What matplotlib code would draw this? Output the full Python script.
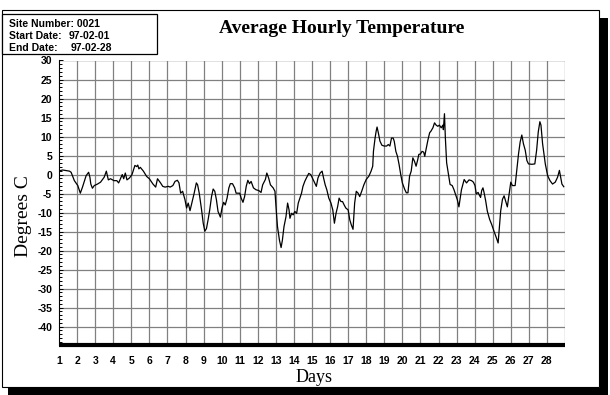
import matplotlib
matplotlib.use("Agg")
import matplotlib.pyplot as plt
from matplotlib.patches import Rectangle
from matplotlib.ticker import MultipleLocator

# hourly temperature trace (day position, degrees C)
days = [
    1.04, 1.2, 1.58, 1.67, 1.85, 2.04, 2.18, 2.3, 2.5, 2.64, 2.71, 2.76, 2.85, 2.95,
    3.13, 3.3, 3.5, 3.62, 3.73, 3.85, 4.04, 4.2, 4.3, 4.5, 4.58, 4.67, 4.76, 4.9,
    5.04, 5.2, 5.3, 5.36, 5.42, 5.5, 5.67, 5.85, 6.0, 6.2, 6.35, 6.45, 6.53,
    6.62, 6.74, 6.87, 7.05, 7.15, 7.3, 7.42, 7.55, 7.64, 7.73, 7.84, 7.97, 8.06,
    8.15, 8.25, 8.37, 8.48, 8.6, 8.67, 8.76, 8.89, 8.98, 9.07, 9.16, 9.25, 9.34,
    9.44, 9.53, 9.62, 9.71, 9.8, 9.93, 10.02, 10.11, 10.2, 10.3, 10.4, 10.48,
    10.6, 10.72, 10.8, 11.0, 11.08, 11.18, 11.27, 11.36, 11.45, 11.54, 11.63,
    11.76, 11.9, 12.05, 12.18, 12.27, 12.42, 12.5, 12.6, 12.7, 12.85, 12.95,
    13.02, 13.09, 13.2, 13.29, 13.36, 13.45, 13.56, 13.65, 13.73, 13.78, 13.87,
    13.96, 14.05, 14.15, 14.24, 14.33, 14.42, 14.5, 14.6, 14.69, 14.82, 14.93,
    15.02, 15.15, 15.24, 15.33, 15.45, 15.56, 15.64, 15.73, 15.82, 15.93, 16.05,
    16.15, 16.24, 16.33, 16.42, 16.5, 16.6, 16.69, 16.78, 16.87, 17.0, 17.09,
    17.18, 17.27, 17.36, 17.45, 17.55, 17.64, 17.75, 17.87, 18.0, 18.15, 18.27,
    18.36, 18.4, 18.49, 18.55, 18.6, 18.67, 18.76, 18.87, 19.0, 19.13, 19.22,
    19.31, 19.4, 19.49, 19.55, 19.64, 19.73, 19.82, 19.91, 20.0, 20.13, 20.22,
    20.31, 20.4, 20.49, 20.58, 20.67, 20.76, 20.85, 20.91, 21.0, 21.09, 21.18,
    21.24, 21.31, 21.42, 21.51, 21.58, 21.69, 21.78, 21.87, 21.96, 22.05, 22.15,
    22.24, 22.27, 22.33, 22.38, 22.45, 22.55, 22.64, 22.76, 22.85, 22.95, 23.04,
    23.13, 23.27, 23.42, 23.55, 23.69, 23.83, 23.93, 24.02, 24.09, 24.19, 24.28,
    24.33, 24.39, 24.46, 24.52, 24.61, 24.7, 24.83, 24.94, 25.07, 25.2, 25.3,
    25.35, 25.44, 25.54, 25.63, 25.72, 25.81, 25.91, 26.0, 26.09, 26.24, 26.33,
    26.43, 26.52, 26.61, 26.7, 26.8, 26.89, 26.98, 27.17, 27.33, 27.43, 27.52,
    27.61, 27.67, 27.76, 27.91, 28.04, 28.17, 28.31, 28.46, 28.59, 28.69, 28.76,
    28.83, 28.93,
]
temps = [
    1.0, 1.2, 0.9, 0.6, -1.6, -2.9, -4.9, -3.3, -0.3, 0.6, -0.7, -2.5, -3.6, -2.9,
    -2.5, -2.0, -0.7, 0.9, -1.4, -1.1, -1.6, -1.6, -2.2, 0.0, -1.1, 0.4, -1.4, -0.9,
    0.0, 2.4, 2.1, 2.5, 1.5, 1.9, 0.9, -0.5, -1.1, -2.5, -3.3, -1.1, -1.6,
    -2.2, -3.1, -3.3, -3.1, -3.3, -2.9, -1.8, -1.5, -2.2, -4.9, -4.4, -6.6, -8.8,
    -7.5, -9.5, -7.1, -4.9, -2.2, -2.7, -4.9, -9.3, -12.8, -14.9, -14.2, -11.9, -9.3,
    -5.8, -3.8, -4.4, -6.6, -9.7, -11.2, -8.8, -7.3, -8.0, -6.2, -3.5, -2.4,
    -2.4, -3.5, -4.9, -4.9, -6.2, -7.3, -5.8, -3.1, -1.5, -2.4, -1.8,
    -3.5, -4.0, -4.2, -4.7, -2.7, -1.3, 0.4, -0.9, -2.7, -3.5, -4.4,
    -9.3, -13.7, -17.3, -19.2, -17.3, -13.7, -11.1, -7.5, -9.3, -11.5, -10.2,
    -10.6, -9.7, -10.2, -7.5, -6.2, -4.9, -3.1, -1.8, -0.9, 0.3, 0.0,
    -0.9, -2.2, -3.1, -0.9, 0.4, 0.9, -0.9, -2.7, -4.0, -6.2, -7.5,
    -9.3, -12.8, -10.2, -8.4, -6.2, -7.1, -7.1, -8.0, -8.8, -9.3, -11.9,
    -13.3, -14.4, -7.5, -4.4, -4.9, -5.8, -4.4, -2.7, -1.3, -0.4, 0.9,
    2.2, 6.1, 9.6, 11.4, 12.5, 11.0, 8.8, 7.7, 7.5, 7.5, 7.9,
    7.5, 9.6, 9.6, 8.8, 6.1, 4.8, 2.6, 0.0, -2.2, -3.9, -4.8,
    -4.8, -0.4, 0.9, 4.4, 3.5, 2.2, 3.9, 5.3, 5.4, 6.1, 5.9,
    4.8, 6.6, 9.2, 11.0, 11.4, 12.3, 13.6, 13.0, 12.7, 13.0, 12.3,
    13.0, 11.8, 16.0, 9.6, 3.1, 0.0, -2.6, -2.9, -3.9, -5.3, -6.6,
    -8.5, -4.0, -1.3, -2.2, -1.4, -1.6, -2.0, -2.9, -5.1, -4.7, -5.6,
    -6.0, -4.2, -3.5, -4.7, -6.9, -9.6, -11.8, -13.1, -14.9, -16.6, -18.0,
    -14.9, -9.6, -6.5, -5.6, -7.1, -8.5, -5.1, -2.0, -2.9, -2.9, 1.1,
    5.5, 8.6, 10.4, 8.1, 6.4, 3.7, 2.8, 2.7, 2.8, 6.4, 11.2,
    13.9, 13.0, 8.1, 2.8, -0.3, -1.6, -2.5, -2.0, -0.7, 1.1, -0.7,
    -2.5, -3.2,
]
day_ticks = list(range(1, 29))
temp_ticks = list(range(-40, 31, 5))
info_labels = ["Site Number: 0021", "Start Date:", "End Date:"]
info_dates = ["", "97-02-01", "97-02-28"]

W, H = 610, 395
fig = plt.figure(figsize=(W / 100, H / 100), dpi=100)
fig.patch.set_facecolor("white")


def fx(x):
    return x / W


def fy(y):
    return 1 - y / H


def box(x0, y0, x1, y1, **kw):
    r = Rectangle((fx(x0), fy(y1)), fx(x1) - fx(x0), fy(y0) - fy(y1),
                  transform=fig.transFigure, **kw)
    fig.add_artist(r)


# panel frame with drop shadow
box(8, 388, 608, 395, facecolor="black", edgecolor="none", zorder=-2)
box(600, 18, 608, 395, facecolor="black", edgecolor="none", zorder=-2)
box(2, 10, 599, 387, facecolor="white", edgecolor="black", linewidth=0.8, zorder=-1)

# info box
box(2, 14, 157, 54, facecolor="white", edgecolor="black", linewidth=0.9, zorder=2)
small = dict(family=["Liberation Sans", "DejaVu Sans"], weight="bold", fontsize=7.5)
for i, (lab, d) in enumerate(zip(info_labels, info_dates)):
    yy = fy(24 + 12 * i)
    fig.text(fx(9), yy, lab, ha="left", va="center", zorder=3, **small)
    if d:
        fig.text(fx(68.5 if i == 1 else 71), yy, d, ha="left", va="center", zorder=3, **small)

serif = ["Liberation Serif", "DejaVu Serif"]
fig.text(fx(342), fy(33), "Average Hourly Temperature", ha="center", va="baseline",
         family=serif, weight="bold", fontsize=14)
fig.text(fx(23), fy(216), "Degrees C", ha="center", va="center", rotation=90,
         family=serif, fontsize=14)
fig.text(fx(314), fy(378), "Days", ha="center", va="center", family=serif, fontsize=13)

ax = fig.add_axes([fx(59), fy(344.5), fx(565) - fx(59), fy(60.5) - fy(344.5)])
ax.plot(days, temps, color="black", linewidth=0.9)

ax.set_xlim(1, 29)
ax.set_ylim(-44.7, 30)
ax.set_xticks(day_ticks)
ax.set_xticklabels([str(d) for d in day_ticks])
ax.set_yticks(temp_ticks)
ax.set_yticklabels([str(t) for t in temp_ticks])
ax.yaxis.set_minor_locator(MultipleLocator(1))

# vertical grid includes the right edge at day 29
for d in day_ticks[1:] + [29]:
    ax.axvline(d, color="#808080", linewidth=0.9, zorder=1)
for t in temp_ticks + [30]:
    ax.axhline(t, color="#808080", linewidth=0.9, zorder=1)

ax.tick_params(axis="x", length=0, pad=8)
ax.tick_params(axis="y", which="major", direction="in", length=3, width=0.7, pad=5)
ax.tick_params(axis="y", which="minor", direction="in", length=1.8, width=0.7)
for lab in ax.get_xticklabels() + ax.get_yticklabels():
    lab.set_family(small["family"])
    lab.set_weight("bold")
    lab.set_fontsize(7.5)

ax.spines["top"].set_visible(False)
ax.spines["right"].set_visible(False)
ax.spines["left"].set_linewidth(0.8)
ax.spines["bottom"].set_linewidth(3)
ax.spines["bottom"].set_capstyle("butt")

fig.savefig("out.png", dpi=100)
